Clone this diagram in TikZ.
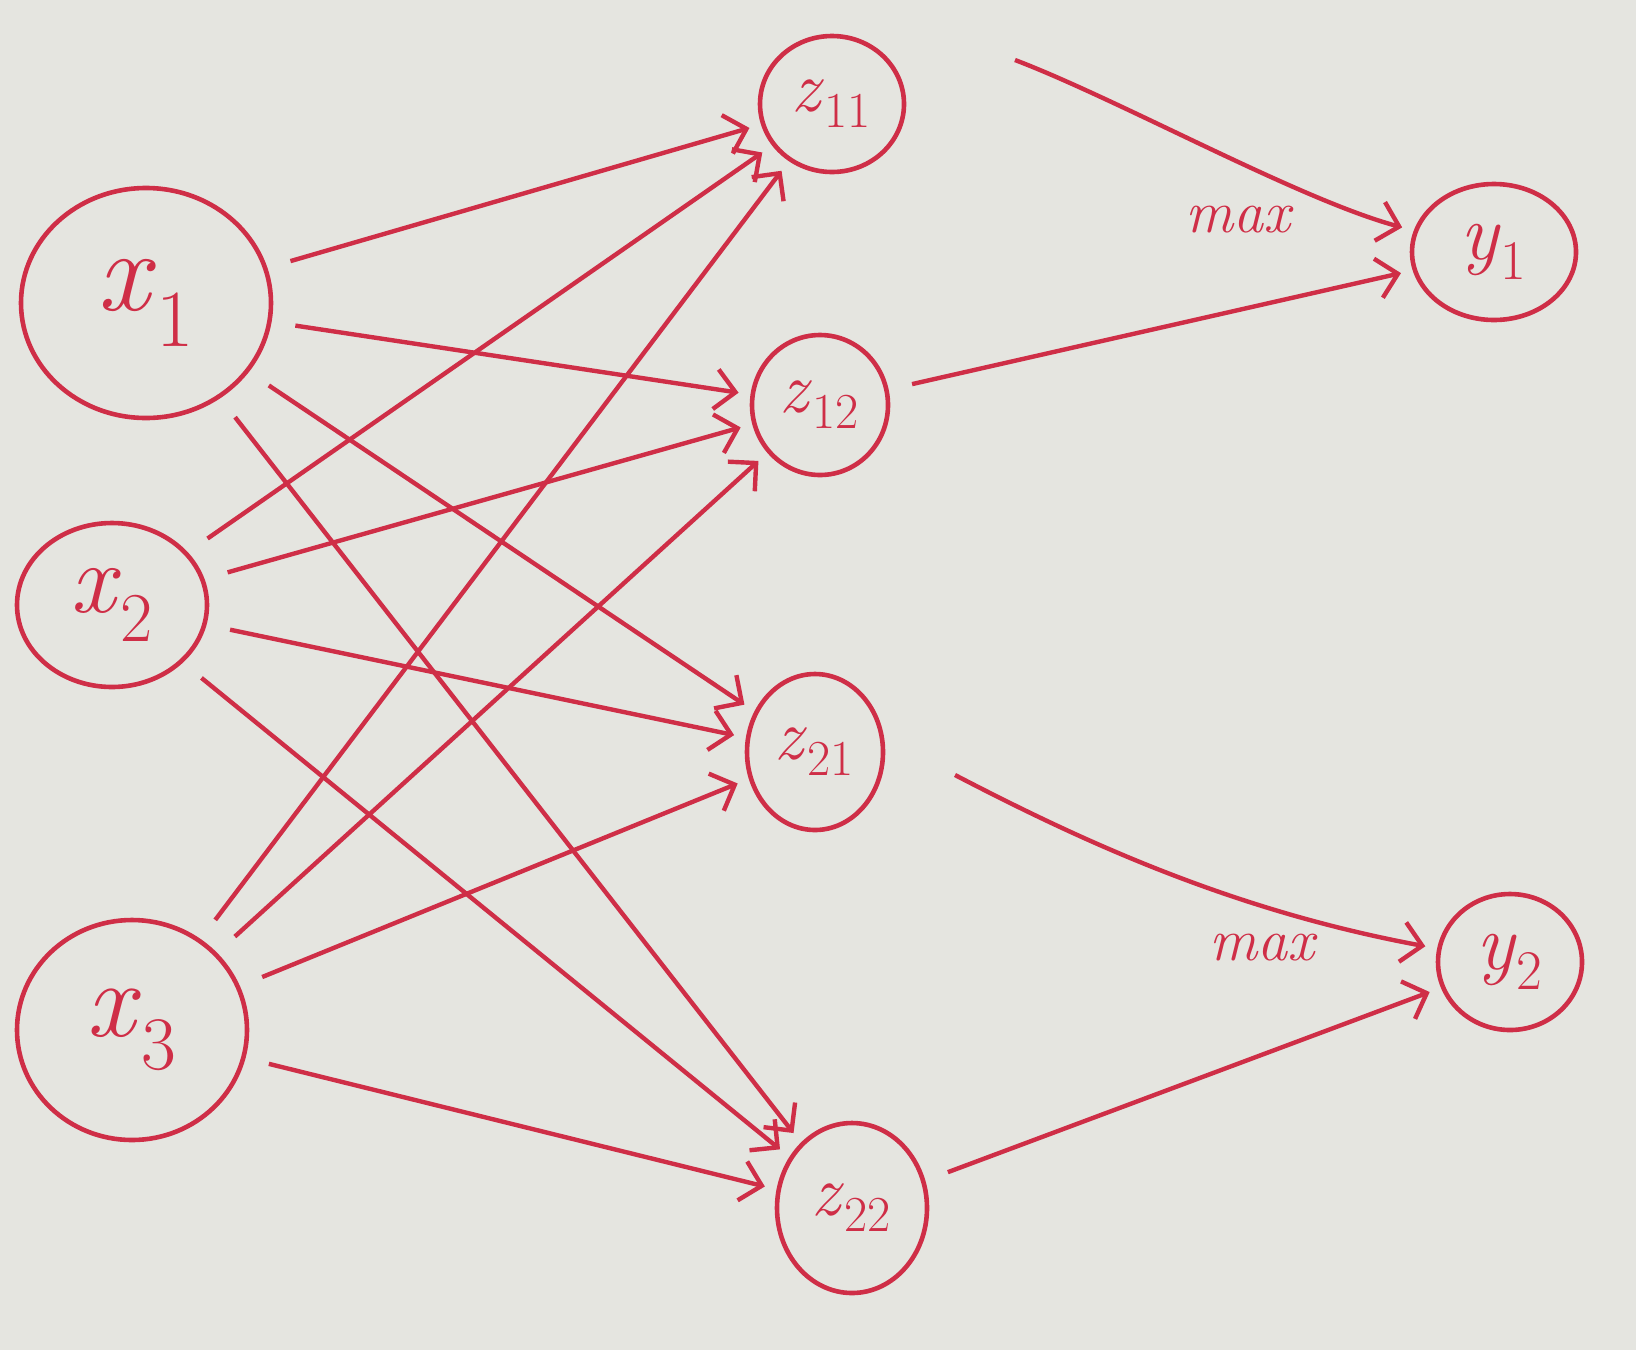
\documentclass[tikz,border=0pt]{standalone}
\usepackage{fontspec}
\usetikzlibrary{shapes.geometric,arrows.meta}
\definecolor{ink}{HTML}{CF2E47}
\definecolor{paper}{HTML}{E5E5E0}
\newcommand{\vlab}[2]{\textit{#1}\textsubscript{#2}}
\begin{document}
\begin{tikzpicture}[x=0.5pt,y=-0.5pt,
  neuron/.style={draw=ink, ellipse, line width=2.3pt, inner sep=0pt, text=ink},
  edge/.style={draw=ink, line width=2.2pt, -{Straight Barb[length=10pt,width=20pt,line width=2.2pt]}, shorten <=12pt, shorten >=6pt},
  lab/.style={text=ink, font=\fontsize{30}{36}\selectfont\itshape}
]
\fill[paper] (0,0) rectangle (1636,1350);
\useasboundingbox (0,0) rectangle (1636,1350);

\node[neuron, minimum width=125pt, minimum height=115pt, font=\fontsize{58}{66}\selectfont] (x1) at (146,303) {\vlab{x}{1}};
\node[neuron, minimum width=95pt, minimum height=82pt, font=\fontsize{50}{56}\selectfont] (x2) at (112,605) {\vlab{x}{2}};
\node[neuron, minimum width=115pt, minimum height=110pt, font=\fontsize{54}{60}\selectfont] (x3) at (132,1030) {\vlab{x}{3}};

\node[neuron, minimum width=72pt, minimum height=68pt, font=\fontsize{36}{40}\selectfont] (z11) at (832,104) {\vlab{z}{11}};
\node[neuron, minimum width=68pt, minimum height=70pt, font=\fontsize{36}{40}\selectfont] (z12) at (820,405) {\vlab{z}{12}};
\node[neuron, minimum width=68pt, minimum height=78pt, font=\fontsize{36}{40}\selectfont] (z21) at (815,752) {\vlab{z}{21}};
\node[neuron, minimum width=75pt, minimum height=85pt, font=\fontsize{36}{40}\selectfont] (z22) at (852,1208) {\vlab{z}{22}};

\node[neuron, minimum width=82pt, minimum height=68pt, font=\fontsize{40}{46}\selectfont] (y1) at (1494,252) {\vlab{y}{1}};
\node[neuron, minimum width=72pt, minimum height=68pt, font=\fontsize{40}{46}\selectfont] (y2) at (1510,962) {\vlab{y}{2}};

\foreach \s in {x1,x2,x3}{
  \foreach \t in {z11,z12,z21,z22}{
    \draw[edge] (\s) -- (\t);
  }
}

\coordinate (c11) at (1015,60);
\coordinate (c21) at (955,775);
\draw[edge, shorten <=0pt] (c11) .. controls (1120,100) and (1300,200) .. (y1);
\draw[edge] (z12) -- (y1);
\draw[edge, shorten <=0pt] (c21) .. controls (1080,840) and (1230,910) .. (y2);
\draw[edge] (z22) -- (y2);

\node[lab] (m1) at (1238,220) {max};
\node[lab] (m2) at (1262,948) {max};
\end{tikzpicture}
\end{document}
